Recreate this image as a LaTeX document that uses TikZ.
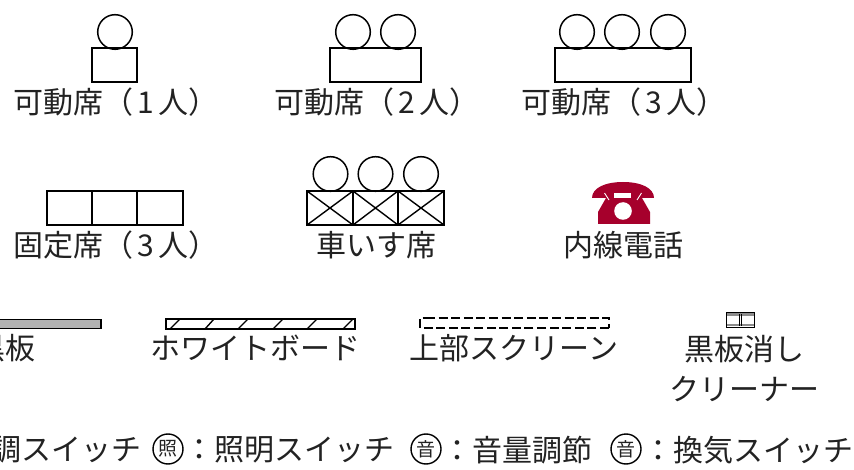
\documentclass[tikz,border=0pt]{standalone}
\usepackage{fontspec}
\setmainfont{Noto Sans CJK JP}
\definecolor{telred}{HTML}{A6002C}
\definecolor{inkgray}{HTML}{222222}
\newcommand{\dg}[1]{\kern4.5pt#1\kern4.5pt}
\tikzset{
  lbl/.style={inner sep=0pt,font=\fontsize{30pt}{30pt}\selectfont,text=inkgray},
  shp/.style={draw=black,line width=1.5pt},
  thin shp/.style={draw=black,line width=1.4pt},
  badge/.style={draw=black,line width=1.4pt,circle,minimum size=30pt,inner sep=0pt,font=\fontsize{19pt}{19pt}\selectfont,text=inkgray}
}
\begin{document}
\begin{tikzpicture}[x=1pt,y=-1pt]
\useasboundingbox (0,0) rectangle (854,470);
% movable seats
\foreach \c in {115,353,398,577,622,668} \draw[shp] (\c,32) circle (17.3);
\draw[shp] (92,48) rectangle (137,82);
\draw[shp] (330,48) rectangle (421,82);
\draw[shp] (555,48) rectangle (691,82);
\node[lbl] (m1) at (116,102) {可動席（\dg{1}人）};
\node[lbl] (m2) at (377,102) {可動席（\dg{2}人）};
\node[lbl] (m3) at (624,102) {可動席（\dg{3}人）};
% fixed seats
\draw[shp] (47,191) rectangle (183,225);
\draw[shp] (92,191) -- (92,225) (137,191) -- (137,225);
\node[lbl] (f3) at (116,245) {固定席（\dg{3}人）};
% wheelchair
\foreach \c in {330.5,375.5,421} \draw[shp] (\c,174) circle (17.3);
\draw[shp] (307,191) rectangle (444,225);
\draw[shp] (353,191) -- (353,225) (398,191) -- (398,225);
\draw[thin shp] (307,191) -- (353,225) (353,191) -- (307,225)
  (353,191) -- (398,225) (398,191) -- (353,225)
  (398,191) -- (444,225) (444,191) -- (398,225);
\node[lbl] (wc) at (376,245) {車いす席};
% telephone
\fill[telred] (592,198) .. controls (592,188) and (605,182) .. (623,182)
  .. controls (641,182) and (654,188) .. (654,198) -- (642,198)
  -- (650,212) -- (650,224) -- (598,224) -- (598,212) -- (606,198) -- cycle;
\fill[white] (614,193) rectangle (631,198);
\fill[white] (623,211) circle (8.8);
\draw[white,line width=.9pt] (604.5,193) -- (609,200) (641.5,193) -- (637,200);
\node[lbl] (tel) at (623,245) {内線電話};
% boards
\draw[shp,fill=black!30] (-10,319.5) rectangle (101,328.5);
\node[lbl,anchor=east] (bb) at (36,348) {黒板};
\draw[shp] (166,319) rectangle (355,329);
\draw[thin shp] (170,329) -- (180,319) (205,329) -- (214,319) (238,329) -- (248,319)
  (273,329) -- (283,319) (307,329) -- (317,319) (343,329) -- (353,319);
\node[lbl] (wb) at (255,348) {ホワイトボード};
\draw[shp,dash pattern=on 9pt off 3.6pt] (426,318) -- (609,318) -- (609,328);
\draw[shp,dash pattern=on 9pt off 3.6pt] (609,328) -- (420,328) -- (420,318) -- (426,318);
\node[lbl] (sc) at (514,348) {上部スクリーン};
% cleaner
\draw[draw=black!45,line width=2.6pt] (727,314.7) -- (754,314.7) (727,325) -- (754,325);
\draw[draw=black,line width=1pt] (726.5,312.5) rectangle (754.5,327.5);
\draw[draw=black,line width=.9pt] (739,314) -- (739,326) (741.5,314) -- (741.5,326);
\node[lbl] (c1) at (744,349) {黒板消し};
\node[lbl] (c2) at (744,389) {クリーナー};
% bottom row
\node[lbl,anchor=east] (s0) at (142,450) {調スイッチ};
\node[badge] (b1) at (168,449) {照};
\node[lbl,anchor=west] (s1) at (184,450) {：照明スイッチ};
\node[badge] (b2) at (426,449) {音};
\node[lbl,anchor=west] (s2) at (442,450) {：音量調節};
\node[badge] (b3) at (626,449) {音};
\node[lbl,anchor=west] (s3) at (643,450) {：換気スイッチ};
\end{tikzpicture}
\end{document}
